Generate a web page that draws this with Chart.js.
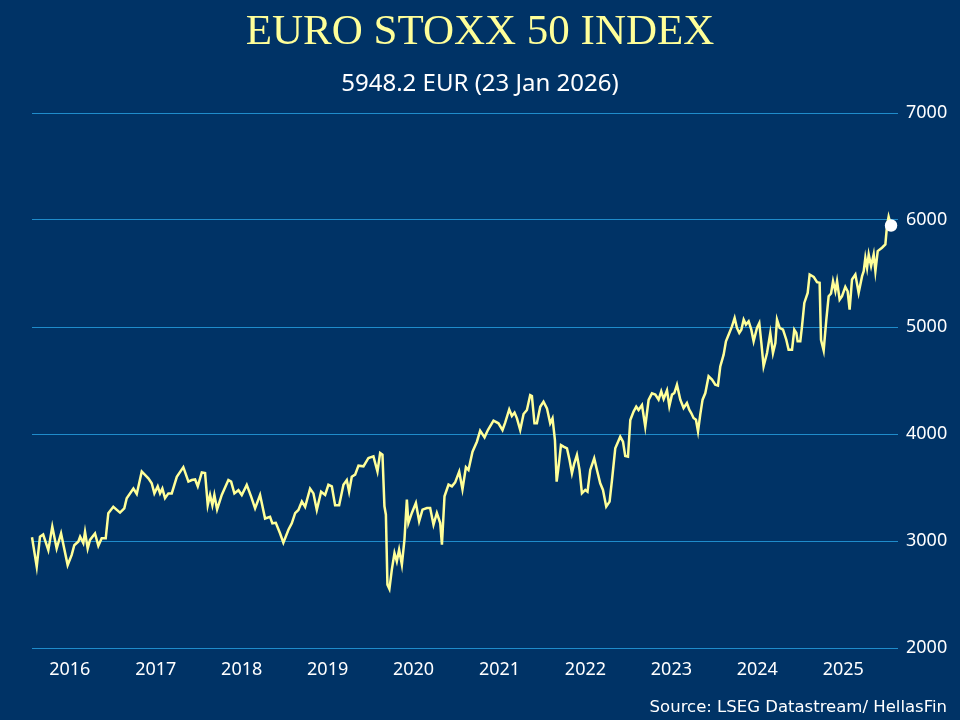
<!DOCTYPE html>
<html>
<head>
<meta charset="utf-8">
<title>EURO STOXX 50 INDEX</title>
<script src="https://cdn.jsdelivr.net/npm/chart.js"></script>
<style>
  html, body { margin: 0; padding: 0; background: #003366; }
  #wrap { width: 960px; height: 720px; }
</style>
</head>
<body>
<div id="wrap"><canvas id="stoxxChart" width="960" height="720"></canvas></div>
<script>
// weekly closes, [decimal year, index level]
const d2016 = [[2016.060,3035],[2016.115,2760],[2016.153,3040],[2016.190,3060],[2016.250,2915],[2016.296,3135],[2016.347,2930],[2016.398,3070],[2016.475,2775],[2016.522,2870],[2016.552,2960],[2016.600,2995],[2016.620,3040],[2016.657,2980],[2016.677,3085],[2016.708,2930],[2016.735,3010],[2016.793,3070],[2016.832,2955],[2016.871,3025],[2016.918,3025],[2016.948,3260]];
const d2017 = [[2017.006,3320],[2017.084,3265],[2017.134,3305],[2017.162,3400],[2017.240,3490],[2017.279,3440],[2017.337,3650],[2017.414,3585],[2017.453,3540],[2017.484,3445],[2017.523,3510],[2017.550,3445],[2017.577,3490],[2017.608,3400],[2017.647,3445],[2017.686,3445],[2017.745,3600],[2017.821,3690],[2017.880,3555],[2017.919,3570],[2017.958,3575],[2017.989,3510]];
const d2018 = [[2018.036,3640],[2018.074,3635],[2018.105,3335],[2018.132,3430],[2018.159,3335],[2018.182,3430],[2018.214,3295],[2018.268,3430],[2018.345,3570],[2018.377,3555],[2018.415,3445],[2018.462,3475],[2018.501,3430],[2018.559,3525],[2018.610,3415],[2018.656,3305],[2018.714,3430],[2018.772,3210],[2018.830,3225],[2018.857,3165],[2018.897,3170],[2018.947,3070],[2018.985,2985]];
const d2019 = [[2019.044,3105],[2019.083,3165],[2019.122,3260],[2019.160,3290],[2019.200,3370],[2019.238,3320],[2019.296,3490],[2019.335,3445],[2019.374,3290],[2019.424,3460],[2019.471,3430],[2019.509,3525],[2019.549,3510],[2019.587,3335],[2019.634,3335],[2019.684,3525],[2019.723,3570],[2019.750,3460],[2019.781,3600],[2019.820,3620],[2019.859,3704],[2019.917,3698],[2019.975,3776]];
const d2020 = [[2020.033,3791],[2020.080,3650],[2020.111,3822],[2020.138,3807],[2020.161,3324],[2020.178,3246],[2020.196,2592],[2020.219,2551],[2020.247,2732],[2020.278,2888],[2020.305,2810],[2020.332,2919],[2020.364,2779],[2020.394,3013],[2020.422,3386],[2020.440,3168],[2020.480,3262],[2020.527,3355],[2020.565,3184],[2020.604,3293],[2020.655,3308],[2020.693,3308],[2020.732,3153],[2020.771,3262],[2020.810,3168],[2020.830,2966],[2020.860,3418],[2020.907,3527],[2020.946,3511],[2020.984,3548]];
const d2021 = [[2021.031,3648],[2021.069,3483],[2021.109,3689],[2021.139,3664],[2021.186,3835],[2021.237,3928],[2021.275,4031],[2021.326,3969],[2021.365,4037],[2021.430,4125],[2021.488,4100],[2021.535,4037],[2021.566,4106],[2021.613,4230],[2021.644,4168],[2021.675,4200],[2021.703,4146],[2021.741,4037],[2021.780,4187],[2021.819,4224],[2021.857,4364],[2021.877,4355],[2021.907,4100],[2021.935,4100],[2021.974,4255]];
const d2022 = [[2022.012,4302],[2022.052,4240],[2022.090,4100],[2022.117,4146],[2022.145,3944],[2022.165,3555],[2022.192,3726],[2022.215,3897],[2022.245,3882],[2022.285,3866],[2022.315,3757],[2022.343,3632],[2022.370,3726],[2022.401,3804],[2022.431,3664],[2022.459,3446],[2022.498,3477],[2022.524,3461],[2022.556,3664],[2022.602,3773],[2022.634,3664],[2022.672,3539],[2022.704,3477],[2022.742,3321],[2022.781,3368],[2022.809,3570],[2022.847,3866],[2022.905,3975],[2022.937,3928],[2022.963,3794],[2022.995,3788]];
const d2023 = [[2023.022,4131],[2023.060,4209],[2023.091,4255],[2023.118,4224],[2023.158,4271],[2023.196,4069],[2023.235,4318],[2023.274,4380],[2023.313,4368],[2023.351,4321],[2023.382,4399],[2023.410,4327],[2023.449,4408],[2023.476,4259],[2023.507,4368],[2023.534,4383],[2023.565,4461],[2023.604,4321],[2023.642,4243],[2023.681,4290],[2023.708,4227],[2023.731,4196],[2023.758,4150],[2023.786,4134],[2023.810,4025],[2023.836,4181],[2023.863,4321],[2023.895,4383],[2023.933,4539],[2023.973,4508]];
const d2024 = [[2024.011,4461],[2024.042,4452],[2024.069,4632],[2024.108,4741],[2024.135,4866],[2024.166,4928],[2024.205,5006],[2024.236,5084],[2024.263,4991],[2024.290,4944],[2024.314,4975],[2024.341,5069],[2024.368,5022],[2024.399,5053],[2024.430,4975],[2024.457,4866],[2024.496,4991],[2024.523,5037],[2024.547,4850],[2024.573,4632],[2024.613,4757],[2024.651,4944],[2024.682,4756],[2024.710,4850],[2024.729,5069],[2024.760,4991],[2024.799,4975],[2024.837,4881],[2024.864,4788],[2024.904,4788],[2024.930,4975],[2024.954,4944],[2024.969,4866]];
const d2025 = [[2025.000,4866],[2025.020,5006],[2025.047,5225],[2025.086,5319],[2025.109,5491],[2025.156,5469],[2025.195,5419],[2025.225,5413],[2025.241,4881],[2025.272,4781],[2025.303,5069],[2025.330,5288],[2025.358,5313],[2025.381,5428],[2025.408,5334],[2025.428,5428],[2025.458,5256],[2025.486,5288],[2025.524,5375],[2025.551,5334],[2025.574,5163],[2025.602,5444],[2025.641,5491],[2025.679,5319],[2025.719,5475],[2025.738,5522],[2025.757,5647],[2025.777,5553],[2025.796,5678],[2025.824,5569],[2025.854,5678],[2025.874,5522],[2025.901,5709],[2025.951,5741],[2025.990,5772]];
const d2026 = [[2026.009,5944],[2026.028,6031],[2026.056,5948.2]];

const yearLabels = [2016, 2017, 2018, 2019, 2020, 2021, 2022, 2023, 2024, 2025];
const yTicks = [2000, 3000, 4000, 5000, 6000, 7000];

const titleText = 'EURO STOXX 50 INDEX';
const subtitleText = '5948.2 EUR (23 Jan 2026)';
const sourceText = 'Source: LSEG Datastream/ HellasFin';

const series = [].concat(d2016, d2017, d2018, d2019, d2020, d2021, d2022, d2023, d2024, d2025, d2026)
  .map(p => ({ x: p[0], y: p[1] }));
const lastIndex = series.length - 1;

// background + title block + source line
const headerFooter = {
  id: 'headerFooter',
  beforeDraw(chart) {
    const c = chart.ctx;
    c.save();
    c.fillStyle = '#003366';
    c.fillRect(0, 0, chart.width, chart.height);
    c.restore();
  },
  afterDraw(chart) {
    const c = chart.ctx;
    c.save();
    c.textBaseline = 'alphabetic';
    c.textAlign = 'center';
    c.fillStyle = '#FFFF99';
    c.font = '43px "Liberation Serif"';
    c.fillText(titleText, 480, 44);
    c.fillStyle = '#ffffff';
    c.font = '24px "Noto Sans"';
    c.fillText(subtitleText, 480, 91);
    c.textAlign = 'right';
    c.font = '16.5px "DejaVu Sans"';
    c.fillText(sourceText, 947, 712);
    c.restore();
  }
};

const ctx = document.getElementById('stoxxChart');
const myChart = new Chart(ctx, {
  type: 'line',
  data: {
    datasets: [{
      label: 'EURO STOXX 50',
      data: series,
      borderColor: '#FFFF99',
      borderWidth: 2.5,
      tension: 0,
      fill: false,
      pointRadius: c => c.dataIndex === lastIndex ? 5 : 0,
      pointHoverRadius: 0,
      pointBackgroundColor: '#ffffff',
      pointBorderColor: '#ffffff',
      clip: false
    }]
  },
  options: {
    responsive: false,
    animation: false,
    layout: {
      padding: { top: 113, left: 32, right: 0, bottom: 32 }
    },
    plugins: {
      legend: { display: false },
      tooltip: { enabled: false }
    },
    scales: {
      x: {
        type: 'linear',
        min: 2016.06,
        max: 2026.137,
        grid: { display: false },
        border: { display: false },
        afterBuildTicks: scale => {
          scale.ticks = yearLabels.map(y => ({ value: y + 0.5 }));
        },
        afterFit: scale => { scale.height = 40; },
        ticks: {
          color: '#ffffff',
          font: { family: 'Noto Sans', size: 18 },
          padding: 3,
          maxRotation: 0,
          autoSkip: false,
          callback: value => String(Math.floor(value))
        }
      },
      y: {
        position: 'right',
        min: yTicks[0],
        max: yTicks[yTicks.length - 1],
        grid: { color: '#1f8ccb', lineWidth: 1, drawTicks: false },
        border: { display: false },
        afterFit: scale => { scale.width = 62; },
        ticks: {
          stepSize: 1000,
          color: '#ffffff',
          font: { family: 'Noto Sans', size: 18 },
          padding: 8,
          callback: value => String(value)
        }
      }
    }
  },
  plugins: [headerFooter]
});
</script>
</body>
</html>
